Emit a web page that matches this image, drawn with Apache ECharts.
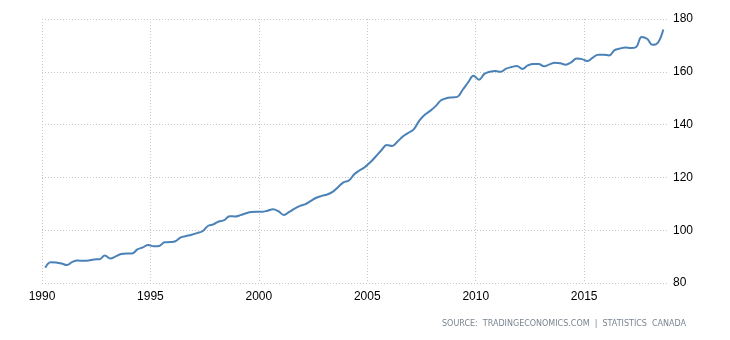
<!DOCTYPE html>
<html>
<head>
<meta charset="utf-8">
<script src="https://cdn.jsdelivr.net/npm/echarts@6/dist/echarts.min.js"></script>
<style>
    html, body { margin: 0; padding: 0; background: #fff; }
    #chart { width: 730px; height: 340px; }
</style>
</head>
<body>
<div id="chart"></div>
<script>
// quarterly readings, 1990 Q1 .. 2018 Q3
var startYear = 1990.15;
var values = [
    85.8, 87.9, 87.8, 87.4,
    86.8, 88.0, 88.5, 88.4,
    88.5, 88.9, 89.0, 90.4,
    89.3, 90.1, 91.0, 91.2,
    91.2, 92.7, 93.5, 94.4,
    93.9, 94.0, 95.4, 95.5,
    95.8, 97.3, 97.8, 98.3,
    98.9, 99.6, 101.6, 102.2,
    103.3, 103.8, 105.3, 105.2,
    105.7, 106.4, 106.9, 107.0,
    107.0, 107.4, 107.9, 107.2,
    105.8, 106.9, 108.2, 109.2,
    109.9, 111.1, 112.3, 113.0,
    113.5, 114.5, 116.3, 118.1,
    118.8, 121.2, 122.7, 124.0,
    125.8, 128.0, 130.3, 132.3,
    131.9, 133.6, 135.6, 136.9,
    138.3, 141.5, 143.7, 145.2,
    147.0, 149.2, 150.0, 150.3,
    150.5, 153.2, 156.0, 158.5,
    157.0, 159.2, 160.0, 160.3,
    160.0, 161.2, 161.8, 162.2,
    161.1, 162.4, 163.0, 163.0,
    162.1, 162.8, 163.4, 163.2,
    162.7, 163.6, 165.0, 164.8,
    164.1, 165.4, 166.5, 166.5,
    166.2, 168.2, 168.8, 169.2,
    169.0, 169.4, 173.2, 172.5,
    170.2, 171.0, 176.0
];
var yTicks = [80, 100, 120, 140, 160, 180];
var sourceText = 'SOURCE:  TRADINGECONOMICS.COM  |  STATISTICS  CANADA';

var points = [];
for (var i = 0; i < values.length; i++) {
    points.push([startYear + i * 0.25, values[i]]);
}

var chart = echarts.init(document.getElementById('chart'));
var option = {
    animation: false,
    backgroundColor: '#fff',
    grid: {
        left: 42,
        right: 63,
        top: 19,
        bottom: 57,
        containLabel: false
    },
    xAxis: {
        type: 'value',
        min: 1990,
        max: 2018.82,
        interval: 5,
        axisLine: { show: false },
        axisTick: { show: false },
        axisLabel: {
            showMaxLabel: false,
            margin: 8,
            color: '#000',
            fontFamily: 'Liberation Sans',
            fontSize: 12,
            formatter: function (v) { return String(v); }
        },
        splitLine: {
            show: true,
            showMaxLine: false,
            lineStyle: { color: '#c8c8c8', type: [1, 2], width: 1 }
        }
    },
    yAxis: {
        type: 'value',
        position: 'right',
        min: yTicks[0],
        max: yTicks[yTicks.length - 1],
        interval: 20,
        axisLine: { show: false },
        axisTick: { show: false },
        axisLabel: {
            margin: 6,
            color: '#000',
            fontFamily: 'Liberation Sans',
            fontSize: 12
        },
        splitLine: {
            show: true,
            lineStyle: { color: '#c8c8c8', type: [1, 2], width: 1 }
        }
    },
    series: [{
        type: 'line',
        data: points,
        smooth: 0.4,
        showSymbol: false,
        lineStyle: { color: '#4a82b8', width: 2 }
    }],
    graphic: [{
        type: 'text',
        right: 44,
        top: 320,
        style: {
            text: sourceText,
            fill: '#7a8591',
            font: '8px "DejaVu Sans"'
        }
    }]
};
chart.setOption(option);
</script>
</body>
</html>
